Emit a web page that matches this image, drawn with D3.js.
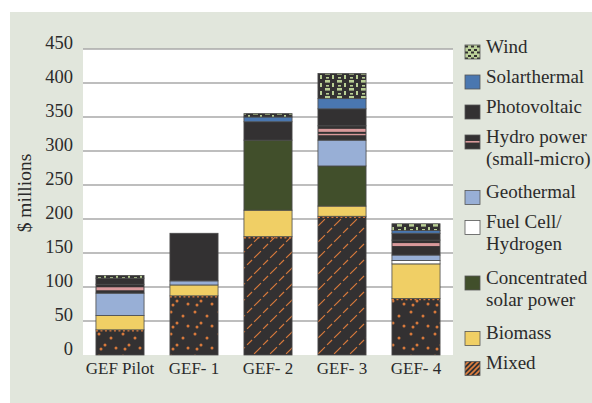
<!DOCTYPE html>
<html>
<head>
<meta charset="utf-8">
<script src="https://cdn.jsdelivr.net/npm/d3@7"></script>
<style>
  html, body { margin: 0; padding: 0; background: #ffffff; }
  svg { display: block; }
  text { font-family: "Liberation Serif", "Times New Roman", serif; fill: #2b2b2b; }
</style>
</head>
<body>
<svg id="chart" width="592" height="403"></svg>
<script>
// ---- data ----
const categories = ["GEF Pilot", "GEF- 1", "GEF- 2", "GEF- 3", "GEF- 4"];
const yTicks = [0, 50, 100, 150, 200, 250, 300, 350, 400, 450];

// stacked bottom -> top
const mixed        = [37, 87, 174, 204, 83];
const biomass      = [21, 16, 39, 15, 51];
const csp          = [0, 0, 103, 59, 0];
const fuelCell     = [0, 0, 0, 0, 5];
const geothermal   = [33, 6, 0, 38, 8];
const hydro        = [13, 0, 0, 21, 22];
const photovoltaic = [9, 70, 27, 25, 10];
const solarthermal = [0, 0, 7, 15, 4];
const wind         = [4, 0, 5, 37, 10];

const seriesKeys = ["Mixed", "Biomass", "Concentrated solar power", "Fuel Cell/Hydrogen",
  "Geothermal", "Hydro power (small-micro)", "Photovoltaic", "Solarthermal", "Wind"];
const seriesValues = [mixed, biomass, csp, fuelCell, geothermal, hydro, photovoltaic, solarthermal, wind];
const legendLabels = [
  ["Wind"], ["Solarthermal"], ["Photovoltaic"], ["Hydro power", "(small-micro)"],
  ["Geothermal"], ["Fuel Cell/", "Hydrogen"], ["Concentrated", "solar power"], ["Biomass"], ["Mixed"]
];
const legendKeys = ["Wind", "Solarthermal", "Photovoltaic", "Hydro power (small-micro)",
  "Geothermal", "Fuel Cell/Hydrogen", "Concentrated solar power", "Biomass", "Mixed"];

// ---- styling ----
const DARK = "#333132";
const fills = {
  "Mixed": "url(#mixedDots)",
  "Biomass": "#f0cf65",
  "Concentrated solar power": "#414f2b",
  "Fuel Cell/Hydrogen": "#ffffff",
  "Geothermal": "#98afd6",
  "Hydro power (small-micro)": DARK,
  "Photovoltaic": DARK,
  "Solarthermal": "#4a77b0",
  "Wind": "url(#windPat)"
};
const legendFills = Object.assign({}, fills, {
  "Mixed": "url(#mixedLegend)",
  "Wind": "url(#windLegend)"
});
const lineMixedCats = ["GEF- 2", "GEF- 3"];
const doubleStripeCats = ["GEF- 3"];

const table = categories.map((c, i) => {
  const row = { cat: c };
  seriesKeys.forEach((k, j) => row[k] = seriesValues[j][i]);
  return row;
});

const svg = d3.select("#chart");
const W = 592, H = 403;
const plot = { left: 83, right: 453, top: 49, bottom: 355 };

// defs / patterns
const defs = svg.append("defs");
const pd = defs.append("pattern").attr("id", "mixedDots").attr("patternUnits", "userSpaceOnUse")
  .attr("width", 24).attr("height", 22);
pd.append("rect").attr("width", 24).attr("height", 22).attr("fill", DARK);
[[3, 4], [15, 8], [9, 15], [20, 18], [5, 19]].forEach(([x, y]) =>
  pd.append("circle").attr("cx", x).attr("cy", y).attr("r", 1.5).attr("fill", "#d8793b"));
const pl = defs.append("pattern").attr("id", "mixedLines").attr("patternUnits", "userSpaceOnUse")
  .attr("width", 16).attr("height", 16);
pl.append("rect").attr("width", 16).attr("height", 16).attr("fill", DARK);
pl.append("path").attr("d", "M0,16 L16,0 M-4,4 L4,-4 M12,20 L20,12")
  .attr("stroke", "#d8793b").attr("stroke-width", 1.2).attr("stroke-dasharray", "7 3");
const pml = defs.append("pattern").attr("id", "mixedLegend").attr("patternUnits", "userSpaceOnUse")
  .attr("width", 5).attr("height", 5);
pml.append("rect").attr("width", 5).attr("height", 5).attr("fill", DARK);
pml.append("path").attr("d", "M0,5 L5,0 M-1,1 L1,-1 M4,6 L6,4")
  .attr("stroke", "#e0803f").attr("stroke-width", 1.6);
const pw = defs.append("pattern").attr("id", "windPat").attr("patternUnits", "userSpaceOnUse")
  .attr("width", 12).attr("height", 8);
pw.append("rect").attr("width", 12).attr("height", 8).attr("fill", DARK);
pw.append("rect").attr("x", 1).attr("y", 0).attr("width", 5).attr("height", 2.6).attr("fill", "#b9cf94");
pw.append("rect").attr("x", 8).attr("y", 3).attr("width", 2).attr("height", 4).attr("fill", "#b9cf94");
pw.append("rect").attr("x", 2).attr("y", 5).attr("width", 3).attr("height", 1.6).attr("fill", "#b9cf94");
const pwl = defs.append("pattern").attr("id", "windLegend").attr("patternUnits", "userSpaceOnUse")
  .attr("width", 6).attr("height", 6);
pwl.append("rect").attr("width", 6).attr("height", 6).attr("fill", "#bcd19a");
pwl.append("rect").attr("x", 0).attr("y", 1).attr("width", 3).attr("height", 2).attr("fill", DARK);
pwl.append("rect").attr("x", 3).attr("y", 3.5).attr("width", 3).attr("height", 2).attr("fill", DARK);

// background panel
svg.append("rect").attr("x", 10).attr("y", 12).attr("width", W - 10).attr("height", H - 12).attr("fill", "#e1e6dc");
svg.append("rect").attr("x", plot.left).attr("y", plot.top)
  .attr("width", plot.right - plot.left).attr("height", plot.bottom - plot.top).attr("fill", "#ffffff");

// scales
const x = d3.scaleBand().domain(categories).range([plot.left, plot.right]).paddingInner(0.35).paddingOuter(0.175);
const y = d3.scaleLinear().domain([0, 450]).range([plot.bottom, plot.top]);

// gridlines
svg.append("g").selectAll("line").data(yTicks.filter(t => t > 0)).join("line")
  .attr("x1", plot.left).attr("x2", plot.right)
  .attr("y1", d => y(d)).attr("y2", d => y(d))
  .attr("stroke", "#a8a8a8").attr("stroke-width", 1.4);

// y axis labels
const yAxis = d3.axisLeft(y).tickValues(yTicks).tickSize(0).tickPadding(0).tickFormat(d3.format("d"));
const yg = svg.append("g").attr("transform", `translate(73,0)`).call(yAxis);
yg.select(".domain").remove();
yg.selectAll("text").attr("font-size", 18.5).attr("dy", -1).attr("fill", "#2b2b2b")
  .style("font-family", "'Liberation Serif', 'Times New Roman', serif");

// y title
svg.append("text").attr("transform", "translate(31,193) rotate(-90)")
  .attr("text-anchor", "middle").attr("font-size", 19.5).text("$ millions");

// x labels
const xAxis = d3.axisBottom(x).tickSize(0).tickPadding(0);
const xg = svg.append("g").attr("transform", `translate(0,${plot.bottom})`).call(xAxis);
xg.select(".domain").remove();
xg.selectAll("text").attr("font-size", 17).attr("dy", 0).attr("y", 19).attr("fill", "#2b2b2b")
  .style("font-family", "'Liberation Serif', 'Times New Roman', serif");

// stacks
const stacked = d3.stack().keys(seriesKeys)(table);
const barG = svg.append("g");
stacked.forEach(layer => {
  const key = layer.key;
  const g = barG.append("g");
  layer.forEach(d => {
    const h = y(d[0]) - y(d[1]);
    if (h <= 0.01) return;
    const cat = d.data.cat;
    const bx = x(cat), bw = x.bandwidth();
    let fill = fills[key];
    if (key === "Mixed" && lineMixedCats.includes(cat)) fill = "url(#mixedLines)";
    g.append("rect").attr("x", bx).attr("y", y(d[1])).attr("width", bw).attr("height", h)
      .attr("fill", fill).attr("stroke", "#4a4a4a").attr("stroke-width", 0.8);
    if (key === "Hydro power (small-micro)") {
      g.append("rect").attr("x", bx + 0.5).attr("y", y(d[1]) + 3).attr("width", bw - 1).attr("height", 3)
        .attr("fill", "#d9999b");
      if (doubleStripeCats.includes(cat)) {
        g.append("rect").attr("x", bx + 0.5).attr("y", y(d[1]) + 8).attr("width", bw - 1).attr("height", 1.4)
          .attr("fill", "#d9999b");
      }
    }
    if (key === "Mixed") {
      g.append("line").attr("x1", bx).attr("x2", bx + bw).attr("y1", y(d[1]) + 1).attr("y2", y(d[1]) + 1)
        .attr("stroke", "#d8793b").attr("stroke-width", 1.5).attr("stroke-dasharray", "2 2.5");
    }
  });
});

// legend
const lg = svg.append("g");
let ly = 45;
legendKeys.forEach((k, i) => {
  const lines = legendLabels[i];
  lg.append("rect").attr("x", 465).attr("y", ly).attr("width", 15).attr("height", 14)
    .attr("fill", legendFills[k]).attr("stroke", "#555").attr("stroke-width", 0.8);
  if (k === "Hydro power (small-micro)") {
    lg.append("rect").attr("x", 465.5).attr("y", ly + 6).attr("width", 14).attr("height", 1.6).attr("fill", "#d9999b");
  }
  lines.forEach((t, j) => {
    lg.append("text").attr("x", 486).attr("y", ly + 7.5 + j * 22).attr("font-size", 19).text(t);
  });
  ly += lines.length > 1 ? 55.5 : 30;
});
</script>
</body>
</html>
